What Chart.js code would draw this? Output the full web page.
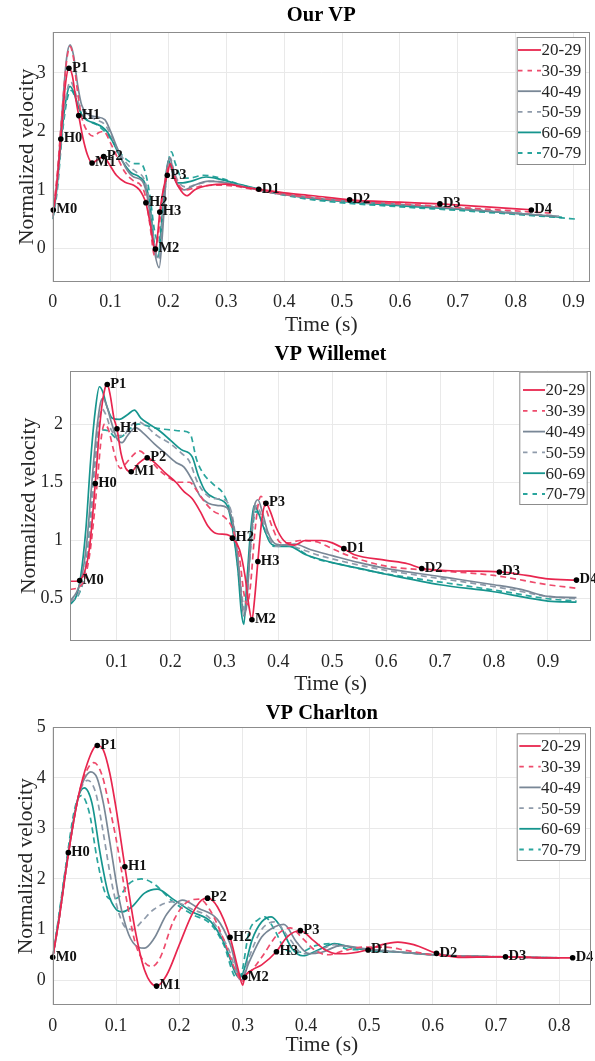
<!DOCTYPE html>
<html>
<head>
<meta charset="utf-8">
<script src="https://cdn.jsdelivr.net/npm/chart.js@4.4.0/dist/chart.umd.min.js"></script>
<style>
  html, body { margin: 0; padding: 0; background: #fff; }
  #page { position: relative; width: 595px; height: 1061px; overflow: hidden; }
  canvas { position: absolute; left: 0; }
</style>
</head>
<body>
<div id="page">
  <canvas id="c1" width="595" height="340" style="top:0px"></canvas>
  <canvas id="c2" width="595" height="360" style="top:340px"></canvas>
  <canvas id="c3" width="595" height="371" style="top:690px"></canvas>
</div>
<script>
// age groups and the landmark names shared by all three panels
const groups = ['20-29', '30-39', '40-49', '50-59', '60-69', '70-79'];
const markNames = ['M0', 'H0', 'P1', 'H1', 'M1', 'P2', 'H2', 'M2', 'H3', 'P3', 'D1', 'D2', 'D3', 'D4'];

// ---- Our VP : [time (s), normalized velocity]
const our2029 = [[0,0.6],[0.005,0.9],[0.014,1.87],[0.022,2.8],[0.028,3.08],[0.034,2.95],[0.04,2.55],[0.045,2.27],[0.052,1.9],[0.06,1.6],[0.068,1.46],[0.078,1.52],[0.088,1.57],[0.097,1.45],[0.11,1.25],[0.125,1.13],[0.14,1.08],[0.15,1.0],[0.156,0.9],[0.161,0.78],[0.168,0.45],[0.1775,-0.05],[0.181,0.2],[0.185,0.62],[0.192,1.05],[0.198,1.25],[0.203,1.45],[0.21,1.2],[0.222,0.98],[0.232,0.9],[0.245,1.0],[0.27,1.08],[0.3,1.1],[0.33,1.05],[0.356,1.01],[0.4,0.95],[0.45,0.9],[0.513,0.83],[0.6,0.79],[0.669,0.76],[0.75,0.71],[0.827,0.66]];
const our3039 = [[0,0.55],[0.008,1.3],[0.016,2.3],[0.024,3.2],[0.03,3.45],[0.036,3.25],[0.042,2.75],[0.05,2.25],[0.06,2.0],[0.07,1.92],[0.08,1.98],[0.088,2.0],[0.1,1.8],[0.112,1.55],[0.125,1.3],[0.14,1.15],[0.152,1.08],[0.16,0.9],[0.168,0.4],[0.176,-0.12],[0.182,0.2],[0.19,0.9],[0.197,1.3],[0.203,1.42],[0.21,1.25],[0.22,1.05],[0.232,1.0],[0.25,1.05],[0.28,1.08],[0.31,1.07],[0.36,0.98],[0.42,0.9],[0.52,0.8],[0.6,0.76],[0.7,0.7],[0.8,0.64],[0.865,0.6]];
const our4049 = [[0,0.5],[0.008,1.2],[0.016,2.3],[0.024,3.25],[0.03,3.48],[0.036,3.3],[0.043,2.8],[0.05,2.45],[0.06,2.3],[0.075,2.25],[0.09,2.2],[0.1,2.0],[0.11,1.75],[0.125,1.4],[0.14,1.22],[0.155,1.15],[0.165,0.8],[0.175,0.0],[0.184,-0.33],[0.19,0.3],[0.196,1.2],[0.202,1.55],[0.208,1.35],[0.218,1.05],[0.228,1.0],[0.245,1.08],[0.27,1.15],[0.3,1.12],[0.33,1.05],[0.38,0.95],[0.45,0.86],[0.6,0.75],[0.7,0.68],[0.8,0.6],[0.87,0.55]];
const our5059 = [[0,0.5],[0.008,1.1],[0.016,2.0],[0.024,2.65],[0.031,2.85],[0.038,2.7],[0.046,2.45],[0.058,2.3],[0.075,2.2],[0.09,2.12],[0.1,1.95],[0.112,1.7],[0.128,1.45],[0.145,1.3],[0.157,1.2],[0.166,0.85],[0.175,0.1],[0.183,-0.2],[0.19,0.5],[0.197,1.3],[0.203,1.55],[0.21,1.3],[0.22,1.1],[0.232,1.05],[0.25,1.1],[0.28,1.15],[0.31,1.1],[0.36,1.0],[0.42,0.9],[0.52,0.8],[0.6,0.75],[0.7,0.69],[0.8,0.61],[0.875,0.55]];
const our6069 = [[0,0.5],[0.008,1.1],[0.016,2.0],[0.024,2.6],[0.03,2.77],[0.037,2.65],[0.045,2.4],[0.055,2.22],[0.07,2.15],[0.085,2.08],[0.095,1.98],[0.105,1.8],[0.12,1.5],[0.135,1.3],[0.15,1.22],[0.16,1.1],[0.168,0.75],[0.176,0.05],[0.182,-0.15],[0.188,0.4],[0.195,1.2],[0.2,1.5],[0.207,1.3],[0.215,1.12],[0.225,1.12],[0.24,1.15],[0.265,1.22],[0.29,1.18],[0.32,1.1],[0.38,0.96],[0.45,0.85],[0.6,0.73],[0.7,0.67],[0.8,0.6],[0.88,0.53]];
const our7079 = [[0,0.5],[0.008,1.0],[0.016,1.9],[0.025,2.55],[0.032,2.7],[0.04,2.55],[0.05,2.3],[0.062,2.18],[0.075,2.12],[0.09,2.0],[0.102,1.85],[0.115,1.65],[0.13,1.5],[0.142,1.45],[0.152,1.45],[0.16,1.3],[0.168,0.9],[0.176,0.3],[0.183,0.1],[0.19,0.6],[0.198,1.35],[0.205,1.65],[0.212,1.45],[0.222,1.22],[0.235,1.2],[0.26,1.25],[0.29,1.2],[0.32,1.1],[0.38,0.95],[0.45,0.83],[0.6,0.71],[0.7,0.65],[0.8,0.58],[0.87,0.53],[0.905,0.5]];
const ourMarkT = [0.001, 0.014, 0.028, 0.045, 0.068, 0.088, 0.161, 0.1775, 0.185, 0.198, 0.356, 0.513, 0.669, 0.827];
const ourMarkV = [0.655, 1.87, 3.08, 2.27, 1.46, 1.57, 0.78, -0.01, 0.62, 1.25, 1.01, 0.83, 0.76, 0.655];

// ---- VP Willemet
const wil2029 = [[0.0135,0.65],[0.025,0.65],[0.0315,0.66],[0.04,0.72],[0.05,0.95],[0.0604,1.49],[0.07,2.05],[0.078,2.3],[0.0826,2.34],[0.088,2.25],[0.095,2.05],[0.1006,1.96],[0.108,1.75],[0.117,1.62],[0.127,1.59],[0.14,1.66],[0.157,1.71],[0.175,1.65],[0.19,1.58],[0.21,1.5],[0.225,1.42],[0.24,1.36],[0.255,1.25],[0.27,1.12],[0.285,1.06],[0.305,1.05],[0.315,1.02],[0.328,0.92],[0.338,0.7],[0.345,0.45],[0.351,0.32],[0.356,0.5],[0.362,0.82],[0.37,1.2],[0.377,1.32],[0.385,1.25],[0.395,1.12],[0.41,1.0],[0.43,0.96],[0.45,1.0],[0.48,1.0],[0.5,0.98],[0.5215,0.93],[0.54,0.88],[0.6,0.83],[0.64,0.8],[0.666,0.76],[0.72,0.74],[0.81,0.73],[0.86,0.7],[0.9,0.67],[0.953,0.66]];
const wil3039 = [[0.0135,0.58],[0.03,0.6],[0.04,0.66],[0.05,0.88],[0.058,1.2],[0.065,1.55],[0.072,1.9],[0.078,2.0],[0.085,1.95],[0.093,1.8],[0.1,1.68],[0.107,1.62],[0.115,1.65],[0.128,1.72],[0.142,1.77],[0.16,1.7],[0.18,1.6],[0.2,1.53],[0.215,1.5],[0.235,1.5],[0.25,1.42],[0.265,1.32],[0.28,1.25],[0.3,1.2],[0.315,1.1],[0.328,0.85],[0.336,0.55],[0.342,0.45],[0.348,0.6],[0.356,1.05],[0.363,1.32],[0.368,1.38],[0.375,1.3],[0.39,1.1],[0.405,0.98],[0.42,0.98],[0.44,1.0],[0.47,0.99],[0.5,0.93],[0.53,0.87],[0.6,0.78],[0.7,0.74],[0.8,0.7],[0.9,0.62],[0.953,0.59]];
const wil4049 = [[0.0135,0.48],[0.025,0.55],[0.035,0.68],[0.045,1.0],[0.055,1.55],[0.063,1.95],[0.07,2.18],[0.075,2.22],[0.082,2.15],[0.09,2.02],[0.1,1.88],[0.11,1.84],[0.12,1.9],[0.135,1.97],[0.15,1.92],[0.17,1.83],[0.19,1.75],[0.21,1.67],[0.225,1.63],[0.24,1.52],[0.255,1.38],[0.27,1.32],[0.29,1.3],[0.305,1.28],[0.318,1.1],[0.328,0.7],[0.336,0.35],[0.341,0.45],[0.348,0.95],[0.356,1.3],[0.362,1.35],[0.37,1.25],[0.38,1.08],[0.395,0.97],[0.41,0.96],[0.43,0.97],[0.46,0.92],[0.5,0.87],[0.55,0.81],[0.6,0.76],[0.7,0.69],[0.8,0.62],[0.85,0.58],[0.9,0.52],[0.953,0.51]];
const wil5059 = [[0.0135,0.47],[0.03,0.55],[0.04,0.7],[0.05,1.05],[0.06,1.65],[0.067,2.0],[0.073,2.13],[0.08,2.08],[0.09,1.95],[0.1,1.9],[0.112,1.9],[0.125,1.98],[0.14,2.02],[0.155,1.98],[0.175,1.9],[0.2,1.83],[0.22,1.75],[0.235,1.68],[0.25,1.5],[0.265,1.4],[0.28,1.36],[0.3,1.35],[0.315,1.2],[0.325,0.85],[0.333,0.5],[0.339,0.38],[0.346,0.8],[0.354,1.2],[0.36,1.3],[0.368,1.22],[0.38,1.05],[0.395,0.95],[0.415,0.96],[0.44,0.93],[0.47,0.88],[0.52,0.82],[0.58,0.76],[0.66,0.7],[0.75,0.64],[0.83,0.58],[0.9,0.52],[0.953,0.5]];
const wil6069 = [[0.0135,0.45],[0.025,0.52],[0.033,0.68],[0.043,1.1],[0.052,1.7],[0.06,2.1],[0.068,2.32],[0.074,2.28],[0.082,2.15],[0.092,2.05],[0.105,2.04],[0.12,2.08],[0.133,2.12],[0.145,2.05],[0.16,2.0],[0.18,1.94],[0.2,1.86],[0.22,1.78],[0.24,1.72],[0.252,1.55],[0.265,1.42],[0.285,1.36],[0.305,1.3],[0.315,1.1],[0.325,0.75],[0.331,0.4],[0.336,0.28],[0.341,0.6],[0.348,1.05],[0.355,1.3],[0.362,1.25],[0.372,1.12],[0.385,0.98],[0.4,0.95],[0.42,0.95],[0.45,0.88],[0.5,0.81],[0.55,0.76],[0.6,0.71],[0.7,0.62],[0.8,0.56],[0.86,0.51],[0.9,0.48],[0.953,0.47]];
const wil7079 = [[0.0135,0.47],[0.03,0.54],[0.04,0.7],[0.05,1.1],[0.058,1.6],[0.066,1.9],[0.072,1.95],[0.085,1.94],[0.1,1.88],[0.112,1.9],[0.125,1.96],[0.14,2.0],[0.16,1.98],[0.18,1.96],[0.2,1.95],[0.22,1.94],[0.236,1.92],[0.248,1.7],[0.26,1.58],[0.28,1.48],[0.298,1.4],[0.312,1.22],[0.322,0.9],[0.33,0.55],[0.337,0.38],[0.344,0.7],[0.352,1.1],[0.358,1.25],[0.366,1.2],[0.378,1.05],[0.392,0.95],[0.41,0.96],[0.43,0.94],[0.46,0.86],[0.52,0.79],[0.58,0.73],[0.66,0.67],[0.75,0.61],[0.82,0.56],[0.9,0.5],[0.953,0.48]];
const wilMarkT = [0.0315, 0.0604, 0.0826, 0.1006, 0.127, 0.1567, 0.3148, 0.351, 0.362, 0.377, 0.5215, 0.666, 0.81, 0.953];
const wilMarkV = [0.657, 1.49, 2.34, 1.96, 1.59, 1.71, 1.02, 0.32, 0.82, 1.32, 0.93, 0.76, 0.73, 0.66];

// ---- VP Charlton
const cha2029 = [[0,0.45],[0.01,1.2],[0.025,2.52],[0.04,3.6],[0.055,4.3],[0.07,4.64],[0.08,4.55],[0.09,4.1],[0.1,3.4],[0.114,2.24],[0.13,1.0],[0.145,0.2],[0.164,-0.12],[0.18,0.1],[0.2,0.7],[0.22,1.3],[0.235,1.58],[0.245,1.62],[0.26,1.45],[0.28,0.85],[0.293,0.2],[0.3,-0.1],[0.303,0.05],[0.315,0.2],[0.33,0.3],[0.353,0.56],[0.37,0.85],[0.391,0.98],[0.41,0.8],[0.43,0.6],[0.45,0.52],[0.47,0.53],[0.498,0.6],[0.52,0.7],[0.545,0.75],[0.57,0.7],[0.606,0.53],[0.64,0.45],[0.7,0.46],[0.715,0.46],[0.78,0.44],[0.821,0.44]];
const cha3039 = [[0,0.45],[0.01,1.2],[0.02,2.1],[0.04,3.6],[0.052,4.1],[0.065,4.3],[0.078,4.05],[0.09,3.4],[0.1,2.8],[0.115,1.7],[0.13,0.75],[0.145,0.35],[0.157,0.27],[0.17,0.45],[0.19,1.15],[0.21,1.52],[0.232,1.6],[0.25,1.35],[0.27,0.8],[0.29,0.15],[0.299,-0.02],[0.31,0.12],[0.33,0.45],[0.355,0.9],[0.375,1.03],[0.395,0.82],[0.415,0.58],[0.435,0.5],[0.46,0.58],[0.49,0.65],[0.525,0.65],[0.56,0.58],[0.6,0.5],[0.65,0.47],[0.72,0.46],[0.8,0.44]];
const cha4049 = [[0,0.45],[0.01,1.2],[0.02,2.1],[0.04,3.6],[0.05,3.98],[0.06,4.12],[0.07,4.0],[0.08,3.5],[0.09,2.75],[0.105,1.6],[0.12,0.9],[0.135,0.65],[0.145,0.63],[0.16,0.82],[0.18,1.3],[0.205,1.58],[0.23,1.42],[0.26,1.2],[0.28,0.72],[0.298,0.0],[0.31,0.35],[0.33,0.85],[0.35,1.05],[0.365,1.1],[0.385,0.75],[0.405,0.52],[0.425,0.55],[0.455,0.68],[0.5,0.6],[0.55,0.55],[0.6,0.5],[0.7,0.46],[0.8,0.44]];
const cha5059 = [[0,0.45],[0.01,1.2],[0.02,2.1],[0.04,3.6],[0.055,3.95],[0.068,3.7],[0.08,2.9],[0.092,2.0],[0.105,1.3],[0.117,1.02],[0.127,1.0],[0.14,1.15],[0.16,1.4],[0.19,1.55],[0.22,1.4],[0.25,1.2],[0.278,0.6],[0.297,0.0],[0.31,0.45],[0.33,1.0],[0.35,1.15],[0.375,0.8],[0.395,0.52],[0.415,0.55],[0.445,0.7],[0.48,0.64],[0.55,0.55],[0.6,0.5],[0.7,0.46],[0.8,0.44]];
const cha6069 = [[0,0.45],[0.01,1.25],[0.02,2.15],[0.04,3.6],[0.05,3.8],[0.062,3.5],[0.075,2.5],[0.088,1.7],[0.1,1.4],[0.11,1.35],[0.125,1.45],[0.145,1.72],[0.165,1.8],[0.19,1.6],[0.22,1.35],[0.25,1.15],[0.27,0.75],[0.295,0.05],[0.3,0.12],[0.315,0.8],[0.33,1.15],[0.345,1.25],[0.36,1.05],[0.378,0.62],[0.395,0.48],[0.42,0.6],[0.445,0.72],[0.47,0.65],[0.5,0.58],[0.55,0.55],[0.6,0.5],[0.7,0.46],[0.8,0.44]];
const cha7079 = [[0,0.45],[0.01,1.3],[0.02,2.2],[0.035,3.4],[0.045,3.65],[0.058,3.3],[0.07,2.4],[0.082,1.75],[0.092,1.6],[0.105,1.65],[0.12,1.9],[0.14,2.0],[0.16,1.9],[0.19,1.55],[0.22,1.3],[0.25,1.1],[0.27,0.7],[0.29,0.05],[0.297,0.1],[0.31,0.95],[0.325,1.2],[0.335,1.25],[0.35,1.0],[0.368,0.6],[0.39,0.55],[0.415,0.68],[0.44,0.72],[0.47,0.6],[0.5,0.6],[0.55,0.55],[0.6,0.5],[0.7,0.46],[0.78,0.44]];
const chaMarkT = [0, 0.0247, 0.0704, 0.114, 0.164, 0.2445, 0.28, 0.3033, 0.3533, 0.391, 0.498, 0.606, 0.715, 0.821];
const chaMarkV = [0.45, 2.52, 4.64, 2.24, -0.12, 1.62, 0.845, 0.053, 0.56, 0.977, 0.594, 0.528, 0.462, 0.442];

// tick values
const ourXTicks = [0, 0.1, 0.2, 0.3, 0.4, 0.5, 0.6, 0.7, 0.8, 0.9];
const ourYTicks = [0, 1, 2, 3];
const wilXTicks = [0.1, 0.2, 0.3, 0.4, 0.5, 0.6, 0.7, 0.8, 0.9];
const wilYTicks = [0.5, 1, 1.5, 2];
const chaXTicks = [0, 0.1, 0.2, 0.3, 0.4, 0.5, 0.6, 0.7, 0.8];
const chaYTicks = [0, 1, 2, 3, 4, 5];

// styles
const groupColors = ['#e8264f', '#ee4b6c', '#798796', '#8f9bab', '#16958e', '#2aa59d'];
const groupDash = [[], [6, 4], [], [6, 4], [], [6, 4]];
const serif = '"Liberation Serif", "Times New Roman", serif';
const textColor = '#262626';
const frameColor = '#8c8c8c';

const frameAndMarks = {
    id: 'frameAndMarks',
    afterDatasetsDraw(chart) {
        const { ctx, chartArea: a } = chart;
        ctx.save();
        ctx.font = 'bold 14.5px ' + serif;
        ctx.fillStyle = '#111';
        ctx.textBaseline = 'middle';
        chart.getDatasetMeta(0).data.forEach((pt, i) => {
            ctx.fillText(markNames[i], pt.x + 3, pt.y - 0.5);
        });
        ctx.strokeStyle = frameColor;
        ctx.lineWidth = 1;
        ctx.strokeRect(Math.round(a.left) + 0.5, Math.round(a.top) + 0.5,
            Math.round(a.right - a.left) - 1, Math.round(a.bottom - a.top) - 1);
        ctx.restore();
    }
};

const legendBox = {
    id: 'legendBox',
    afterDraw(chart, args, o) {
        const ctx = chart.ctx;
        ctx.save();
        ctx.fillStyle = '#fff';
        ctx.fillRect(o.x, o.y, o.w, o.h);
        ctx.strokeStyle = frameColor;
        ctx.lineWidth = 1;
        ctx.strokeRect(o.x + 0.5, o.y + 0.5, o.w, o.h);
        ctx.font = '17px ' + serif;
        ctx.textBaseline = 'middle';
        chart.data.datasets.slice(1).forEach((ds, i) => {
            const y = o.y0 + i * o.dy;
            ctx.strokeStyle = ds.borderColor;
            ctx.lineWidth = 1.8;
            ctx.setLineDash(ds.borderDash.length ? [4.5, 5] : []);
            ctx.beginPath();
            ctx.moveTo(o.x1, y);
            ctx.lineTo(o.x2, y);
            ctx.stroke();
            ctx.setLineDash([]);
            ctx.fillStyle = textColor;
            ctx.fillText(ds.label, o.tx, y + 1);
        });
        ctx.restore();
    }
};

const buildChart = (id, p) => {
    const datasets = [{
        label: 'landmarks',
        data: p.markT.map((t, i) => ({ x: t, y: p.markV[i] })),
        showLine: false,
        pointRadius: 2.8,
        pointBackgroundColor: '#000',
        pointBorderWidth: 0,
        clip: false,
    }];
    p.series.forEach((s, i) => datasets.push({
        label: groups[i],
        data: s.map(d => ({ x: d[0], y: d[1] })),
        borderColor: groupColors[i],
        borderDash: groupDash[i],
        borderWidth: 1.7,
        pointRadius: 0,
        cubicInterpolationMode: 'monotone',
        fill: false,
    }));
    return new Chart(document.getElementById(id), {
        type: 'line',
        data: { datasets },
        plugins: [frameAndMarks, legendBox],
        options: {
            responsive: false,
            animation: false,
            devicePixelRatio: 1,
            layout: { padding: { left: 0, right: p.padRight, top: 0, bottom: 0 } },
            plugins: {
                legend: { display: false },
                tooltip: { enabled: false },
                title: {
                    display: true, text: p.title, fullSize: false, color: '#000',
                    font: { family: serif, size: 20.5, weight: 'bold', lineHeight: 1.2 },
                    padding: p.titlePad,
                },
                legendBox: p.legend,
            },
            scales: {
                x: {
                    type: 'linear', min: p.xMin, max: p.xMax,
                    afterBuildTicks: s => { s.ticks = p.xTicks.map(v => ({ value: v })); },
                    afterFit: s => { s.height = p.xHeight; },
                    grid: { color: '#e9e9e9', drawTicks: false },
                    border: { display: false },
                    ticks: { padding: 10, color: textColor, maxRotation: 0, autoSkip: false,
                        font: { family: serif, size: 18 }, callback: v => String(v) },
                    title: { display: true, text: 'Time (s)', color: textColor,
                        font: { family: serif, size: 21.5, lineHeight: 1.2 },
                        padding: { top: 0, bottom: p.xTitlePad } },
                },
                y: {
                    min: p.yMin, max: p.yMax,
                    afterBuildTicks: s => { s.ticks = p.yTicks.map(v => ({ value: v })); },
                    afterFit: s => { s.width = p.yWidth; },
                    grid: { color: '#e9e9e9', drawTicks: false },
                    border: { display: false },
                    ticks: { padding: 7, color: textColor, autoSkip: false,
                        font: { family: serif, size: 18 }, callback: v => String(v) },
                    title: { display: true, text: 'Normalized velocity', color: textColor,
                        font: { family: serif, size: 21.5, lineHeight: 1.2 },
                        padding: { top: p.yTitlePad, bottom: 0 } },
                },
            },
        },
    });
};

buildChart('c1', {
    title: 'Our VP', titlePad: { top: 3.7, bottom: 3.7 },
    series: [our2029, our3039, our4049, our5059, our6069, our7079],
    markT: ourMarkT, markV: ourMarkV,
    xMin: 0, xMax: 0.928, yMin: -0.57, yMax: 3.7,
    xTicks: ourXTicks, yTicks: ourYTicks,
    padRight: 4, yWidth: 52.7, xHeight: 58.3, xTitlePad: 2.1, yTitlePad: 14.6,
    legend: { x: 516.7, y: 37, w: 68.3, h: 127, y0: 50, dy: 20.6, x1: 518, x2: 541, tx: 541.5 },
});

buildChart('c2', {
    title: 'VP Willemet', titlePad: { top: 2.7, bottom: 3.4 },
    series: [wil2029, wil3039, wil4049, wil5059, wil6069, wil7079],
    markT: wilMarkT, markV: wilMarkV,
    xMin: 0.0135, xMax: 0.98, yMin: 0.137, yMax: 2.458,
    xTicks: wilXTicks, yTicks: wilYTicks,
    padRight: 3.3, yWidth: 70, xHeight: 59, xTitlePad: 3.1, yTitlePad: 16.1,
    legend: { x: 519.3, y: 31.7, w: 67.4, h: 132.3, y0: 50, dy: 20.8, x1: 523, x2: 545, tx: 545.5 },
});

buildChart('c3', {
    title: 'VP Charlton', titlePad: { top: 11.2, bottom: 1.5 },
    series: [cha2029, cha3039, cha4049, cha5059, cha6069, cha7079],
    markT: chaMarkT, markV: chaMarkV,
    xMin: 0, xMax: 0.85, yMin: -0.5, yMax: 5,
    xTicks: chaXTicks, yTicks: chaYTicks,
    padRight: 3.3, yWidth: 52.7, xHeight: 55.7, xTitlePad: 2.6, yTitlePad: 13.6,
    legend: { x: 516.7, y: 43.3, w: 68.3, h: 126.7, y0: 56, dy: 20.7, x1: 519.3, x2: 540.7, tx: 541 },
});
</script>
</body>
</html>
